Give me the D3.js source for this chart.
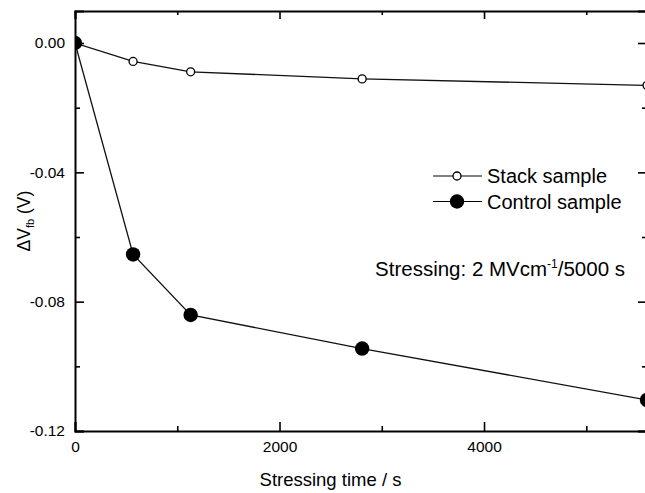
<!DOCTYPE html>
<html>
<head>
<meta charset="utf-8">
<title>Flatband voltage shift vs stressing time</title>
<style>
  html,body{margin:0;background:#fff;}
  svg{display:block;font-family:"Liberation Sans",Arial,Helvetica,sans-serif;}
  .axis path,.axis line{stroke:#000;}
  .axis path{stroke-width:2;}
  .axis line{stroke-width:1.6;}
  .axis text{font-size:15.5px;fill:#000;}
</style>
</head>
<body>
<div id="chart"></div>
<script src="https://cdn.jsdelivr.net/npm/d3@7"></script>
<script>
// values (time in the axis units as drawn)
const times = [0, 568, 1131, 2808, 5594];
const stackShift = [0, -0.0057, -0.0089, -0.0111, -0.0131];
const controlShift = [0, -0.0654, -0.0841, -0.0945, -0.1104];
const xMajor = [0, 2000, 4000];
const xMinor = [1000, 3000, 5000];
const yMajor = [0, -0.04, -0.08, -0.12];
const yMinor = [-0.02, -0.06, -0.10];
const seriesNames = ["Stack sample", "Control sample"];

const width = 645, height = 493;
const m = {left: 75, right: -1, top: 11, bottom: 62};

const svg = d3.select("#chart").append("svg")
    .attr("width", width)
    .attr("height", height);

const x = d3.scaleLinear().domain([0, 5584]).range([m.left, width - m.right]);
const y = d3.scaleLinear().domain([-0.12, 0.0099]).range([height - m.bottom, m.top]);

// plain hyphen for negatives, like the original
const fmtY = d => d3.format(".2f")(d).replace("\u2212", "-");

// clip data to the frame
svg.append("clipPath").attr("id", "plotclip")
  .append("rect")
    .attr("x", x.range()[0]).attr("y", m.top)
    .attr("width", x.range()[1] - x.range()[0])
    .attr("height", y.range()[0] - m.top);

// axes, ticks pointing inward
function addAxis(gen, tx, ty) {
  return svg.append("g").attr("class", "axis")
    .attr("transform", `translate(${tx},${ty})`)
    .call(gen);
}
const yb = y.range()[0], xr = x.range()[1];

addAxis(d3.axisBottom(x).tickValues(xMajor).tickSize(-9).tickPadding(10).tickFormat(d3.format("d")), 0, yb);
addAxis(d3.axisBottom(x).tickValues(xMinor).tickSize(-5).tickFormat(""), 0, yb).select(".domain").remove();
addAxis(d3.axisTop(x).tickValues(xMajor).tickSize(-8).tickFormat(""), 0, m.top);
addAxis(d3.axisTop(x).tickValues(xMinor).tickSize(-4).tickFormat(""), 0, m.top).select(".domain").remove();

addAxis(d3.axisLeft(y).tickValues(yMajor).tickSize(-9).tickPadding(10).tickFormat(fmtY), x.range()[0], 0);
addAxis(d3.axisLeft(y).tickValues(yMinor).tickSize(-5).tickFormat(""), x.range()[0], 0).select(".domain").remove();
addAxis(d3.axisRight(y).tickValues(yMajor).tickSize(-8).tickFormat(""), xr, 0);
addAxis(d3.axisRight(y).tickValues(yMinor).tickSize(-4).tickFormat(""), xr, 0).select(".domain").remove();

// axis titles
svg.append("text")
    .attr("x", (x.range()[0] + 586) / 2).attr("y", 486)
    .attr("text-anchor", "middle")
    .attr("font-size", 18.5)
    .text("Stressing time / s");

const yt = svg.append("text")
    .attr("transform", "translate(30,221) rotate(-90)")
    .attr("text-anchor", "middle")
    .attr("font-size", 17.5);
yt.append("tspan").text("\u0394V");
yt.append("tspan").attr("font-size", 11).attr("dy", 4).text("fb");
yt.append("tspan").attr("dy", -4).text(" (V)");

// data
const line = d3.line().x(d => x(d[0])).y(d => y(d[1]));
const plot = svg.append("g").attr("clip-path", "url(#plotclip)");

const stackPts = times.map((t, i) => [t, stackShift[i]]);
const controlPts = times.map((t, i) => [t, controlShift[i]]);

plot.append("path").datum(controlPts)
    .attr("d", line).attr("fill", "none")
    .attr("stroke", "#111").attr("stroke-width", 1.3);
plot.append("path").datum(stackPts)
    .attr("d", line).attr("fill", "none")
    .attr("stroke", "#111").attr("stroke-width", 1.3);

plot.selectAll(".ctrl").data(controlPts).enter().append("circle")
    .attr("cx", d => x(d[0])).attr("cy", d => y(d[1]))
    .attr("r", 7.2).attr("fill", "#000");
plot.selectAll(".stk").data(stackPts.slice(1)).enter().append("circle")
    .attr("cx", d => x(d[0])).attr("cy", d => y(d[1]))
    .attr("r", 4).attr("fill", "#fff")
    .attr("stroke", "#000").attr("stroke-width", 1.3);

// legend
const legend = svg.append("g").attr("font-size", 20);
seriesNames.forEach((name, i) => {
  const ly = 176 + i * 25.5;
  legend.append("line")
      .attr("x1", 433).attr("x2", 482).attr("y1", ly).attr("y2", ly)
      .attr("stroke", "#000").attr("stroke-width", 1.2);
  if (i === 0) {
    legend.append("circle").attr("cx", 457).attr("cy", ly).attr("r", 4)
        .attr("fill", "#fff").attr("stroke", "#000").attr("stroke-width", 1.3);
  } else {
    legend.append("circle").attr("cx", 457).attr("cy", ly).attr("r", 7.2).attr("fill", "#000");
  }
  legend.append("text").attr("x", 487).attr("y", ly + 7).text(name);
});

// stress condition note
const note = svg.append("text")
    .attr("x", 625).attr("y", 276)
    .attr("text-anchor", "end")
    .attr("font-size", 20.5);
note.append("tspan").text("Stressing: 2 MVcm");
note.append("tspan").attr("font-size", 12).attr("dy", -8).text("-1");
note.append("tspan").attr("dy", 8).text("/5000 s");
</script>
</body>
</html>
